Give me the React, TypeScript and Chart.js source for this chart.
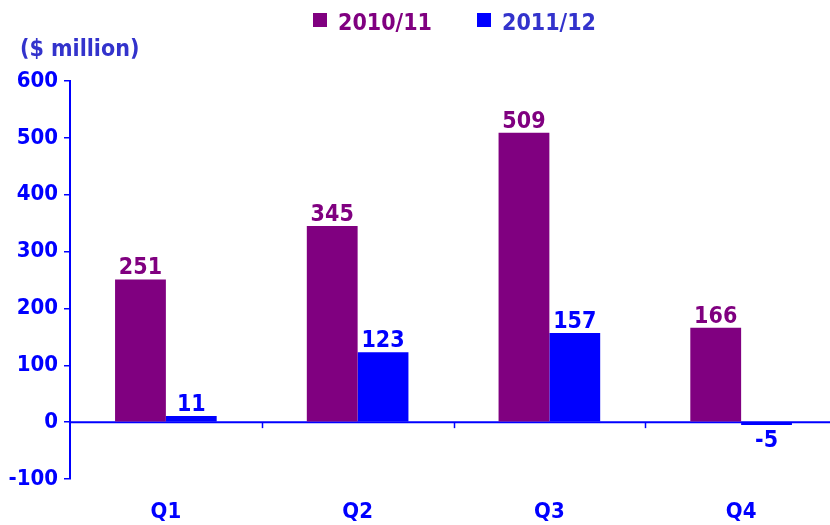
import React, { useEffect, useRef } from "react";
import { Chart, registerables } from "chart.js";

Chart.register(...registerables);

const categories = ["Q1", "Q2", "Q3", "Q4"];
const seriesNames = ["2010/11", "2011/12"];
const values2010 = [251, 345, 509, 166];
const values2011 = [11, 123, 157, -5];
const yMin = -100;
const yMax = 600;
const yStep = 100;
const unitLabel = "($ million)";

const PURPLE = "#800080";
const BLUE = "#0000FF";
const SLATE = "#3333CC";
const FONT = '"DejaVu Sans Condensed", "DejaVu Sans", sans-serif';

const overlayPlugin = {
  id: "overlay",
  beforeDatasetsDraw(chart: any) {
    const { ctx, chartArea, scales } = chart;
    const y0 = scales.y.getPixelForValue(0);
    ctx.save();
    ctx.strokeStyle = BLUE;
    ctx.lineWidth = 2;
    ctx.beginPath();
    ctx.moveTo(chartArea.left, y0);
    ctx.lineTo(chartArea.right, y0);
    ctx.stroke();
    const xs = scales.x;
    for (let i = 0; i < categories.length - 1; i++) {
      const bx = Math.round((xs.getPixelForValue(i) + xs.getPixelForValue(i + 1)) / 2) + 0.5;
      ctx.lineWidth = 1.5;
      ctx.beginPath();
      ctx.moveTo(bx, y0);
      ctx.lineTo(bx, y0 + 6);
      ctx.stroke();
    }
    ctx.restore();
  },
  afterDatasetsDraw(chart: any) {
    const { ctx } = chart;
    ctx.save();
    ctx.font = `bold 23px ${FONT}`;
    ctx.textAlign = "center";
    chart.data.datasets.forEach((ds: any, di: number) => {
      const meta = chart.getDatasetMeta(di);
      meta.data.forEach((bar: any, i: number) => {
        const v = ds.data[i];
        ctx.fillStyle = ds.labelColor;
        if (v >= 0) {
          ctx.textBaseline = "alphabetic";
          ctx.fillText(String(v), bar.x, bar.y - 5);
        } else {
          ctx.textBaseline = "top";
          ctx.fillText(String(v), bar.x, bar.y + 5);
        }
      });
    });
    ctx.restore();
  },
};

export default function App() {
  const ref = useRef<HTMLCanvasElement>(null);
  useEffect(() => {
    if (!ref.current) return;
    const chart = new Chart(ref.current, {
      type: "bar",
      data: {
        labels: categories,
        datasets: [
          {
            label: seriesNames[0],
            data: values2010,
            backgroundColor: PURPLE,
            labelColor: PURPLE,
            barPercentage: 1,
            categoryPercentage: 0.53,
          } as any,
          {
            label: seriesNames[1],
            data: values2011,
            backgroundColor: BLUE,
            labelColor: BLUE,
            barPercentage: 1,
            categoryPercentage: 0.53,
          } as any,
        ],
      },
      options: {
        animation: false,
        responsive: false,
        devicePixelRatio: 1,
        layout: { padding: { top: 81, right: 8, left: 0, bottom: 0 } },
        plugins: { legend: { display: false }, tooltip: { enabled: false } },
        scales: {
          x: {
            grid: { display: false, drawTicks: false },
            border: { display: false },
            ticks: {
              color: BLUE,
              padding: 20,
              font: { family: FONT, size: 22, weight: "bold" },
            },
            afterFit(s: any) {
              s.height = 46;
            },
          },
          y: {
            min: yMin,
            max: yMax,
            ticks: {
              stepSize: yStep,
              color: BLUE,
              padding: 6,
              font: { family: FONT, size: 22, weight: "bold" },
            },
            grid: {
              drawOnChartArea: false,
              drawTicks: true,
              tickLength: 6,
              color: BLUE,
              lineWidth: 1.5,
            },
            border: { color: BLUE, width: 2 },
            afterFit(s: any) {
              s.width = 70;
            },
          },
        },
      },
      plugins: [overlayPlugin],
    });
    return () => chart.destroy();
  }, []);

  const textStyle: React.CSSProperties = {
    position: "absolute",
    fontFamily: FONT,
    fontWeight: "bold",
    fontSize: 23,
    lineHeight: "28px",
    whiteSpace: "nowrap",
  };

  return (
    <div
      style={{
        position: "fixed",
        left: 0,
        top: 0,
        width: 830,
        height: 525,
        overflow: "hidden",
        background: "#fff",
      }}
    >
      <canvas ref={ref} width={845} height={525} style={{ display: "block", width: 845, height: 525 }} />
      <div style={{ ...textStyle, left: 20, top: 34, color: SLATE }}>{unitLabel}</div>
      <div style={{ position: "absolute", left: 313, top: 13, width: 14, height: 14, background: PURPLE }} />
      <div style={{ ...textStyle, left: 338, top: 8, color: PURPLE }}>{seriesNames[0]}</div>
      <div style={{ position: "absolute", left: 477, top: 13, width: 14, height: 14, background: BLUE }} />
      <div style={{ ...textStyle, left: 502, top: 8, color: SLATE }}>{seriesNames[1]}</div>
    </div>
  );
}
